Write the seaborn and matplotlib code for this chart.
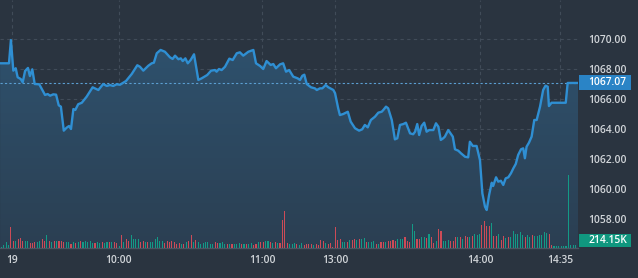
import numpy as np
import pandas as pd
import matplotlib
matplotlib.use("Agg")
import matplotlib.pyplot as plt
import matplotlib.transforms as mtransforms
from matplotlib.patches import Rectangle
from matplotlib.colors import LinearSegmentedColormap
import seaborn as sns

# ---------------- data ----------------
price_t = [-0.5, 3.2, 4.0, 5.0, 6.0, 6.8, 8.1, 8.9, 9.9, 11.1, 11.9, 12.9, 13.9, 15.8,
           18.2, 19.3, 20.3, 21.6, 22.8, 23.9, 24.8, 26.0, 27.2, 28.2, 29.0, 30.0, 30.8,
           32.0, 33.5, 35.5, 38.0, 40.4, 42.4, 43.9, 45.2, 46.6, 48.0, 49.4, 50.8, 51.9,
           54.3, 56.6, 57.7, 59.1, 61.2, 62.6, 63.5, 64.7, 66.3, 68.1, 70.2, 71.3, 72.3,
           73.7, 74.7, 75.5, 76.6, 77.6, 78.8, 80.2, 82.0, 83.4, 85.7, 87.3, 88.9, 89.6,
           90.6, 91.7, 93.1, 94.9, 96.3, 98.0, 99.3, 100.7, 102.8, 104.9, 106.0, 107.7,
           109.0, 110.4, 112.1, 113.2, 114.3, 116.0, 117.3, 118.5, 119.8, 121.5, 123.3,
           124.3, 125.3, 126.1, 127.1, 128.9, 130.5, 131.3, 132.6, 133.6, 135.0, 136.1,
           138.2, 138.9, 140.2, 140.9, 142.3, 144.2, 145.4, 147.2, 148.9, 150.2, 151.3,
           152.5, 153.8, 155.5, 156.9, 158.3, 159.0, 160.1, 161.0, 162.5, 163.8, 164.8,
           165.9, 167.3, 168.4, 170.1, 171.4, 172.2, 173.1, 173.9, 174.9, 176.0, 177.0,
           178.1, 179.8, 180.9, 181.9, 182.9, 183.9, 184.6, 186.0, 187.9, 188.8, 190.2,
           191.3, 193.0, 194.3, 195.0, 196.2, 197.8, 199.2, 200.2, 201.3, 202.0, 203.0,
           204.1, 204.7, 205.9, 206.8, 207.9, 208.9, 209.9, 211.0, 212.1, 213.1, 214.1,
           215.1, 216.3, 217.2, 217.9, 218.6, 219.6, 220.7, 221.8, 222.8, 224.2, 225.5,
           226.5, 227.4, 227.9, 229.0, 234.9, 235.7, 240.0]
price_v = [1068.38, 1068.38, 1069.93, 1067.89, 1068.05, 1067.45, 1067.33, 1067.11, 1067.87,
           1068.07, 1067.53, 1067.98, 1067.00, 1066.98, 1066.27, 1066.33, 1066.22, 1066.31,
           1066.29, 1065.58, 1065.49, 1063.89, 1064.09, 1064.20, 1064.00, 1065.33, 1065.27,
           1065.65, 1065.75, 1066.15, 1066.78, 1066.60, 1067.00, 1066.87, 1066.93, 1066.87,
           1066.98, 1066.95, 1067.09, 1067.20, 1067.67, 1068.25, 1068.15, 1067.89, 1068.22,
           1068.38, 1068.42, 1069.05, 1069.27, 1069.15, 1068.78, 1068.67, 1068.89, 1068.65,
           1068.71, 1068.53, 1068.71, 1068.38, 1068.60, 1068.98, 1067.27, 1067.38, 1067.60,
           1067.89, 1067.93, 1067.82, 1068.00, 1067.93, 1068.15, 1068.69, 1068.60, 1069.05,
           1069.11, 1068.89, 1069.15, 1069.27, 1068.38, 1068.20, 1068.00, 1068.53, 1068.27,
           1068.33, 1068.05, 1068.31, 1068.38, 1067.82, 1067.93, 1067.49, 1067.38, 1067.27,
           1067.55, 1067.62, 1067.00, 1066.78, 1066.71, 1066.60, 1066.71, 1066.71, 1066.93,
           1066.78, 1066.60, 1066.38, 1065.38, 1064.93, 1065.00, 1065.15, 1064.49, 1064.05,
           1063.89, 1063.98, 1064.27, 1064.11, 1064.60, 1064.82, 1065.09, 1065.15, 1065.27,
           1065.49, 1065.38, 1064.60, 1063.31, 1063.38, 1064.27, 1064.33, 1064.42, 1063.71,
           1063.65, 1063.82, 1064.33, 1063.60, 1064.20, 1064.42, 1063.82, 1063.93, 1063.93,
           1064.38, 1064.15, 1063.27, 1063.38, 1063.49, 1063.93, 1063.49, 1062.65, 1062.55,
           1062.38, 1062.15, 1062.11, 1063.15, 1062.87, 1062.87, 1061.93, 1059.71, 1058.82,
           1058.60, 1059.60, 1060.42, 1060.20, 1060.78, 1060.49, 1060.55, 1060.27, 1060.71,
           1060.78, 1061.05, 1061.38, 1061.67, 1062.27, 1062.65, 1062.71, 1062.05, 1062.82,
           1063.09, 1063.49, 1064.60, 1064.60, 1065.49, 1066.60, 1066.89, 1066.82, 1065.53,
           1065.75, 1065.75, 1067.07, 1067.07]

vol_k = [65, 176, 390, 215, 1346, 475, 475, 566, 670, 475,
         436, 436, 345, 345, 371, 390, 436, 566, 436, 865,
         436, 371, 436, 475, 436, 475, 390, 390, 390, 280,
         410, 325, 371, 475, 371, 475, 390, 436, 345, 345,
         410, 306, 371, 306, 371, 371, 371, 371, 306, 130,
         826, 390, 566, 475, 865, 605, 605, 605, 410, 475,
         371, 410, 371, 371, 566, 735, 436, 475, 345, 475,
         390, 475, 371, 280, 306, 280, 280, 410, 475, 865,
         410, 540, 371, 280, 306, 410, 410, 280, 280, 371,
         306, 325, 410, 280, 280, 280, 280, 280, 241, 345,
         280, 280, 280, 241, 325, 215, 280, 371, 371, 371,
         475, 475, 410, 306, 410, 306, 345, 1840, 2386, 325,
         280, 260, 325, 280, 215, 325, 215, 280, 280, 260,
         215, 280, 215, 540, 436, 325, 260, 325, 65, 1346,
         540, 605, 390, 390, 390, 540, 540, 605, 540, 605,
         605, 650, 390, 390, 371, 436, 280, 280, 390, 390,
         390, 436, 475, 540, 475, 605, 605, 605, 696, 436,
         390, 1560, 1125, 605, 605, 696, 696, 650, 930, 696,
         325, 436, 1255, 1086, 436, 475, 540, 436, 436, 696,
         696, 696, 605, 761, 696, 696, 761, 930, 865, 930,
         1515, 1775, 1411, 1411, 1645, 761, 761, 930, 540, 761,
         650, 696, 696, 1086, 930, 930, 1021, 826, 696, 826,
         696, 826, 761, 761, 826, 865, 1040, 975, 930, 215,
         111, 150, 111, 111, 111, 111, 4765, 215, 215, 214.15]
vol_dir = ("ggggrrgrrr" "ggrrrggrrg" "rgrgrrrggr" "grgrgggggr" "ggrggrgrrg"
           "rgrrggggrr" "grggggggrr" "rrrrrgrgrr" "grgggggggr" "rgggrgrggg"
           "rgrggrrgrr" "ggrgrgrrrr" "gggrggrrrr" "grrrrgrrrr" "rrggrgrrgr"
           "ggrgggrgrr" "grrrrgggrr" "rggrrggrgr" "rgrrgggrrr" "grgrrgrggg"
           "rrrrgrrgrr" "grggggggrg" "grggggggrr" "gggggggggg")

tick_pos = [4.45, 48.98, 108.5, 138.9, 199.2, 232.5]
tick_labels = ["19", "10:00", "11:00", "13:00", "14:00", "14:35"]
price_ticks = [1058, 1060, 1062, 1064, 1066, 1068, 1070]
last_price = 1067.07
last_price_label = "1067.07"
last_vol_label = "214.15K"

# ---------------- style ----------------
BG = "#2a3440"
GRID = "#414c59"
TXT = "#d2d6da"
LINE = "#2f8fd3"
RED = "#cc4b57"
GREEN = "#139a86"
FS = 7.4

sns.set_theme(style="dark")
plt.rcParams["font.family"] = ["Open Sans", "DejaVu Sans"]

fig = plt.figure(figsize=(6.38, 2.78), dpi=100, facecolor=BG)
ax = fig.add_axes([0, 30 / 278, 578 / 638, 248 / 278])
ax.set_facecolor(BG)

xmin, xmax = -0.54, 240.0
ymin, ymax = 1056.067, 1072.6

df = pd.DataFrame({"t": price_t, "price": price_v})

# gradient area under the price line
poly = ax.fill_between(df["t"], df["price"], ymin, facecolor="none", edgecolor="none")
grad = np.linspace(0, 1, 256).reshape(-1, 1)
cmap = LinearSegmentedColormap.from_list("area", ["#2f5573", "#2b3f52"])
im = ax.imshow(grad, extent=[xmin, xmax, ymin, ymax], origin="upper",
               aspect="auto", cmap=cmap, zorder=1, interpolation="bilinear")
im.set_clip_path(poly.get_paths()[0], transform=ax.transData)

sns.lineplot(data=df, x="t", y="price", ax=ax, color=LINE, linewidth=1.7,
             estimator=None, sort=False, zorder=4)

ax.axhline(last_price, color="#5b9fd2", linewidth=0.8, linestyle=(0, (2, 2)), zorder=3)

# volume bars on a twin axis
axv = ax.twinx()
axv.patch.set_visible(False)
colors = [RED if c == "r" else GREEN for c in vol_dir]
axv.bar(np.arange(len(vol_k)), vol_k, width=0.45, color=colors, linewidth=0, zorder=2)
axv.set_ylim(0, 248 * 65)
axv.set_xlim(xmin, xmax)
axv.set_yticks([])
axv.tick_params(axis="y", right=False, left=False, labelright=False, labelleft=False)
for s in axv.spines.values():
    s.set_visible(False)
axv.grid(False)

ax.set_xlim(xmin, xmax)
ax.set_ylim(ymin, ymax)
ax.set_xticks(tick_pos)
ax.set_xticklabels(tick_labels)
ax.set_yticks(price_ticks)
ax.set_yticklabels([f"{v:.2f}" for v in price_ticks])
ax.yaxis.tick_right()
ax.tick_params(axis="y", left=False, labelleft=False, right=False, labelright=True)
ax.grid(True, color=GRID, linestyle=(0, (3, 3)), linewidth=0.8, zorder=0)
ax.set_axisbelow(True)
ax.tick_params(axis="x", length=0, pad=5.0, labelsize=FS, labelcolor=TXT)
ax.tick_params(axis="y", length=0, pad=7.5, labelsize=FS, labelcolor=TXT)
for lab in ax.get_xticklabels() + ax.get_yticklabels():
    lab.set_fontweight("semibold")
ax.set_xlabel("")
ax.set_ylabel("")
for s in ["top", "right", "left"]:
    ax.spines[s].set_visible(False)
ax.spines["bottom"].set_color("#4a5562")
ax.spines["bottom"].set_linewidth(1.0)

# last price tag
bt = mtransforms.blended_transform_factory(ax.transAxes, ax.transData)
axv.add_patch(Rectangle((1.0017, last_price - 0.5), 0.0895, 1.0, transform=bt,
                        facecolor="#2a84c6", edgecolor="none", clip_on=False, zorder=5))
axv.text(1.018, last_price, last_price_label, transform=bt, ha="left", va="center",
         fontsize=FS, fontweight="semibold", color="white", zorder=6, clip_on=False)

# last volume tag
axv.add_patch(Rectangle((1.0017, 0.004), 0.0895, 0.0525, transform=ax.transAxes,
                        facecolor="#10977f", edgecolor="none", clip_on=False, zorder=5))
axv.text(1.018, 0.030, last_vol_label, transform=ax.transAxes, ha="left", va="center",
         fontsize=FS, fontweight="semibold", color="white", zorder=6, clip_on=False)

fig.savefig("out.png", dpi=100, facecolor=BG)
